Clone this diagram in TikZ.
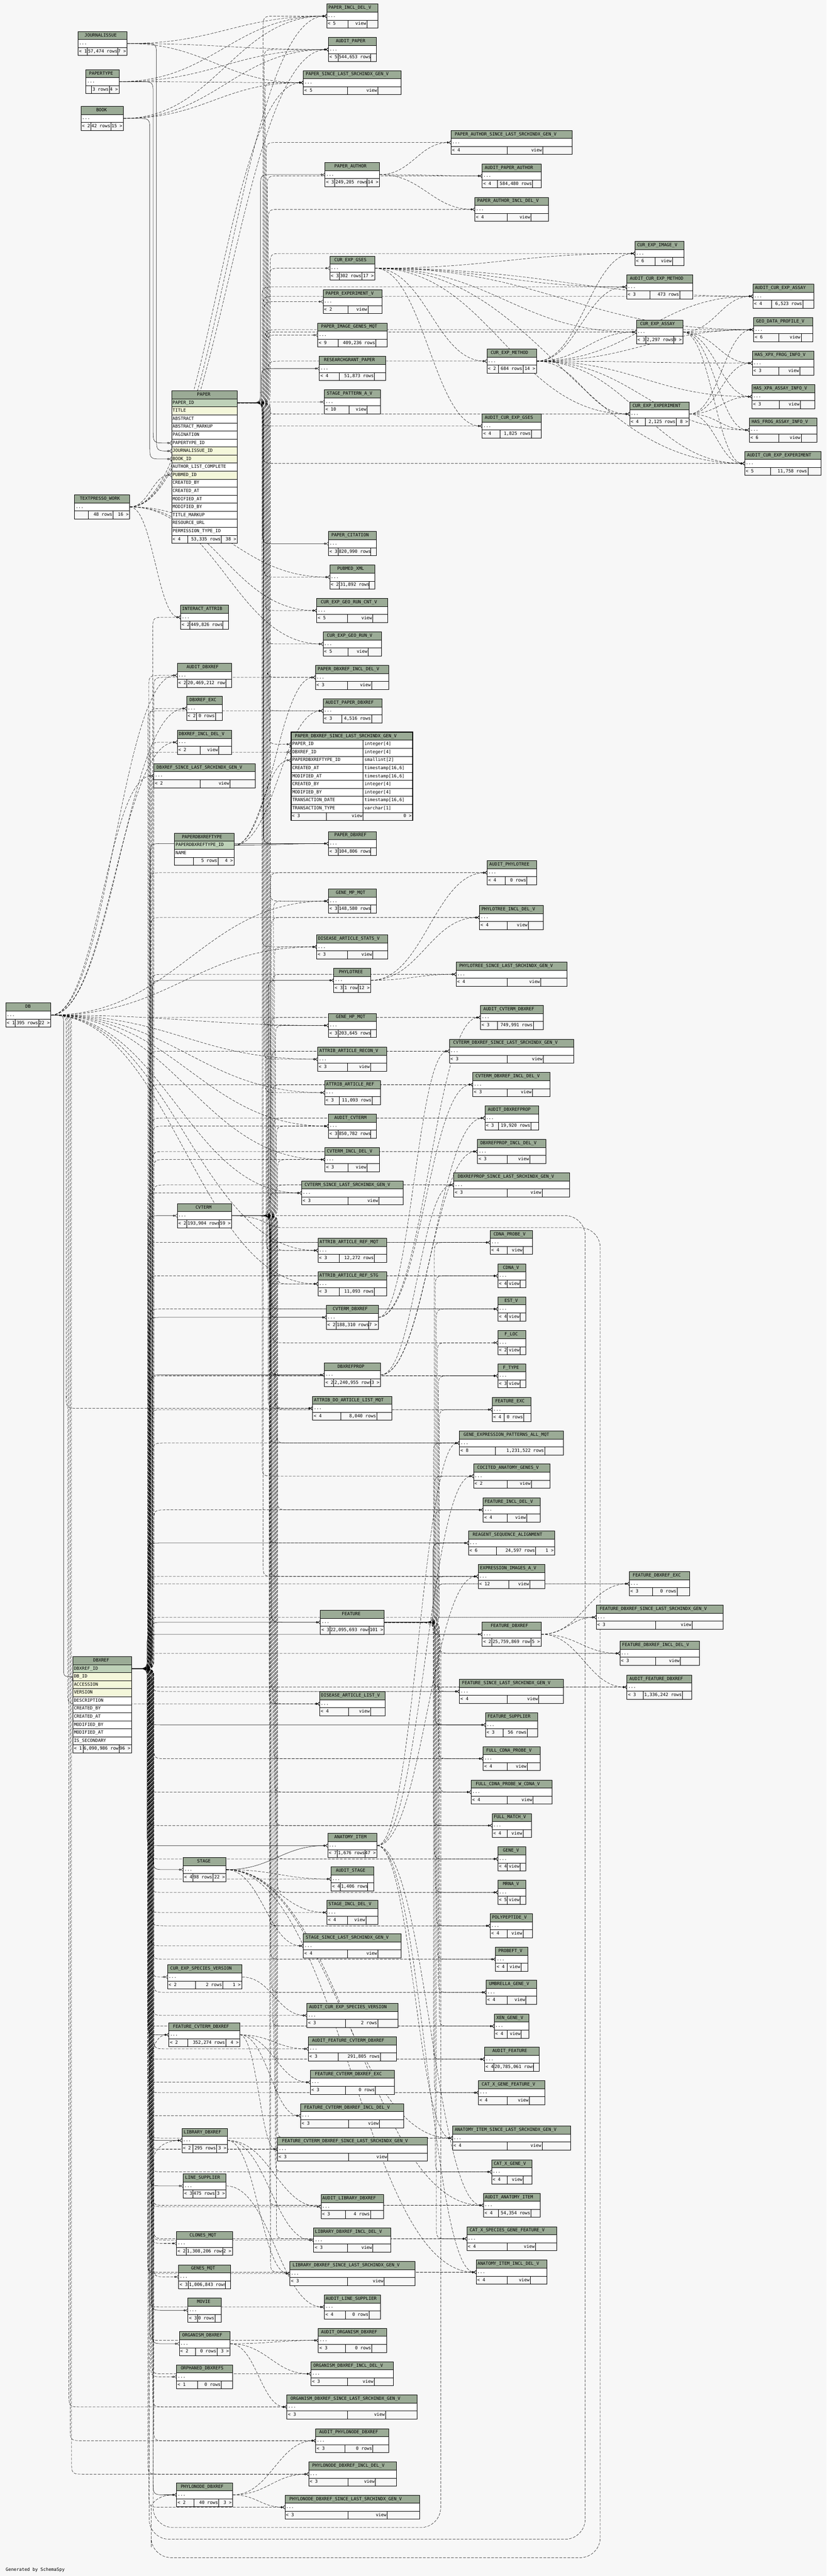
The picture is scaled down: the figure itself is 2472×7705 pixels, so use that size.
\documentclass[tikz,border=0pt]{standalone}
\usepackage{fontspec}
\usepackage{xstring}
\noexpandarg
\newfontfamily\schemafont{DejaVu Sans Mono}
\usetikzlibrary{arrows.meta,calc}
\definecolor{hdrfill}{HTML}{9BAB96}
\definecolor{pkfill}{HTML}{BED1B8}
\definecolor{idxfill}{HTML}{F4F7DA}
\definecolor{bgcol}{HTML}{F7F7F7}
\pgfdeclarelayer{back}
\pgfdeclarelayer{edges}
\pgfsetlayers{back,edges,main}
\newcommand\tblfont{\schemafont\fontsize{13.3}{15}\selectfont}
\tikzset{
  ttext/.style={font=\tblfont,inner sep=0pt,text height=10pt,text depth=3pt},
  tline/.style={line width=1pt},
  tbox/.style={inner sep=0pt,minimum height=72pt},
  portnode/.style={inner sep=0pt,minimum size=0pt},
  fk/.style={line width=0.8pt,-{Circle[open,length=6pt,width=6pt] Straight Barb[reversed,length=6pt,width=10pt]}},
  imp/.style={fk,dash pattern=on 8pt off 4pt},
}
% header: width, name (monospace, 8px a character)
\newcommand\tblhead[2]{%
  \fill[hdrfill] (0,0) rectangle (#1,24);
  \StrLen{#2}[\hlen]%
  \pgfmathsetmacro\hx{max(4,(#1-8.96*\hlen)/2)}%
  \node[ttext,anchor=west] at (\hx,12) {#2};}
% footer: top, width, left, mid, right, split1, split2
\newcommand\tblfoot[7]{%
  \fill[bgcol] (0,#1) rectangle (#2,#1+24);
  \draw[tline] (#6,#1) -- (#6,#1+24) (#7,#1) -- (#7,#1+24);
  \begin{scope}\clip (0,#1) rectangle (#6,#1+24);
    \node[ttext,anchor=west] at (3,#1+12) {#3};\end{scope}
  \StrLen{#4}[\mlen]%
  \begin{scope}\clip (#6,#1) rectangle (#7,#1+24);
    \ifdim\dimexpr 8pt*\mlen+4pt\relax>\dimexpr #7pt-#6pt\relax
      \node[ttext,anchor=west] at (#6+2,#1+12) {#4};
    \else
      \node[ttext,anchor=east] at (#7-2,#1+12) {#4};
    \fi\end{scope}
  \node[ttext,anchor=east] at (#2-3,#1+12) {#5};}
% table: id, x,y, width, name, left, mid, right, split1, split2
\newcommand\tbl[9]{%
  \begin{scope}[shift={(#2)}]
  \node[tbox,minimum width=#3pt,anchor=north west] (#1) at (0,0) {};
  \tblhead{#3}{#4}
  \fill[white] (0,24) rectangle (#3,48);
  \node[ttext,anchor=west] at (3,36) {...};
  \tblfoot{48}{#3}{#5}{#6}{#7}{#8}{#9}
  \draw[tline] (0,0) rectangle (#3,72) (0,24) -- (#3,24) (0,48) -- (#3,48);
  \end{scope}}
% connector through a vertical channel: style, from, channel x, to
\newcommand\fkroute[4]{%
  \draw[#1] let \p1=(#2), \p2=(#4),
    \n1={max(0,min(40,abs((\y2)-(\y1))/2,(#3)-\x1/1pt,\x2/1pt-(#3)))},
    \n2={sign((\y2)-(\y1))} in
    (\p1) -- ({((#3)-\n1)*1pt},\y1) .. controls ({(#3)*1pt},\y1) .. ({(#3)*1pt},{\y1+\n1*\n2*1pt})
    -- ({(#3)*1pt},{\y2-\n1*\n2*1pt}) .. controls ({(#3)*1pt},\y2) .. ({((#3)+\n1)*1pt},\y2) -- (\p2);}
% direct connector: style, from, to
\newcommand\fklink[3]{%
  \draw[#1] let \p1=(#2), \p2=(#3), \n1={max(20,0.45*abs((\x2)-(\x1))/1pt)} in
    (\p1) .. controls ({\x1+\n1*1pt},\y1) and ({\x2-\n1*1pt},\y2) .. (\p2);}
\begin{document}
\begin{tikzpicture}[x=1pt,y=-1pt]
\begin{pgfonlayer}{back}
\fill[bgcol] (0,0) rectangle (2472,7705);
\end{pgfonlayer}
\useasboundingbox (0,0) rectangle (2472,7705);
%tables
\tbl{paperincldelv}{977,12}{153}{PAPER\_INCL\_DEL\_V}{< 5}{view}{}{64}{120}
\tbl{journalissue}{233,94}{147}{JOURNALISSUE}{< 1}{57,474 rows}{7 >}{28}{119}
\tbl{auditpaper}{982,112}{143}{AUDIT\_PAPER}{< 5}{544,653 rows}{}{29}{126}
\tbl{papertype}{257,208}{99}{PAPERTYPE}{}{3 rows}{4 >}{17}{70}
\tbl{papersince}{907,211}{292}{PAPER\_SINCE\_LAST\_SRCHINDX\_GEN\_V}{< 5}{view}{}{132}{223}
\tbl{book}{242,318}{127}{BOOK}{< 2}{42 rows}{15 >}{29}{90}
\tbl{paperauthorsince}{1349,390}{362}{PAPER\_AUTHOR\_SINCE\_LAST\_SRCHINDX\_GEN\_V}{< 4}{view}{}{168}{274}
\tbl{paperauthor}{972,486}{163}{PAPER\_AUTHOR}{< 3}{249,205 rows}{14 >}{29}{126}
\tbl{auditpaperauthor}{1442,490}{177}{AUDIT\_PAPER\_AUTHOR}{< 4}{584,480 rows}{}{45}{151}
\tbl{paperauthorincldelv}{1420,590}{220}{PAPER\_AUTHOR\_INCL\_DEL\_V}{< 4}{view}{}{97}{168}
\tbl{curexpimagev}{1899,722}{147}{CUR\_EXP\_IMAGE\_V}{< 6}{view}{}{60}{112}
\tbl{curexpgses}{986,766}{135}{CUR\_EXP\_GSES}{< 3}{302 rows}{17 >}{29}{97}
\tbl{auditcurexpmethod}{1874,822}{198}{AUDIT\_CUR\_EXP\_METHOD}{< 3}{473 rows}{}{70}{159}
\tbl{auditcurexpassay}{2252,850}{181}{AUDIT\_CUR\_EXP\_ASSAY}{< 4}{6,523 rows}{}{56}{149}
\tbl{paperexperimentv}{966,866}{176}{PAPER\_EXPERIMENT\_V}{< 2}{view}{}{75}{134}
\tbl{geodataprofilev}{2254,950}{176}{GEO\_DATA\_PROFILE\_V}{< 6}{view}{}{75}{142}
\tbl{curexpassay}{1903,957}{139}{CUR\_EXP\_ASSAY}{< 3}{2,297 rows}{9 >}{29}{111}
\tbl{paperimagegenesmqt}{950,966}{208}{PAPER\_IMAGE\_GENES\_MQT}{< 9}{409,236 rows}{}{61}{174}
\tbl{curexpmethod}{1456,1044}{148}{CUR\_EXP\_METHOD}{< 2}{684 rows}{14 >}{35}{108}
\tbl{hasxpxfroginfov}{2250,1050}{184}{HAS\_XPX\_FROG\_INFO\_V}{< 3}{view}{}{79}{142}
\tbl{researchgrantpaper}{955,1066}{198}{RESEARCHGRANT\_PAPER}{< 4}{51,873 rows}{}{60}{165}
\tbl{hasxpaassayinfov}{2249,1150}{188}{HAS\_XPA\_ASSAY\_INFO\_V}{< 3}{view}{}{81}{144}
\tbl{stagepatternav}{970,1166}{167}{STAGE\_PATTERN\_A\_V}{< 10}{view}{}{73}{128}
\tbl{curexpexperiment}{1883,1202}{178}{CUR\_EXP\_EXPERIMENT}{< 4}{2,125 rows}{8 >}{47}{139}
\tbl{auditcurexpgses}{1442,1238}{177}{AUDIT\_CUR\_EXP\_GSES}{< 4}{1,825 rows}{}{53}{147}
\tbl{hasfrogassayinfov}{2241,1250}{202}{HAS\_FROG\_ASSAY\_INFO\_V}{< 6}{view}{}{88}{155}
\tbl{auditcurexpexperiment}{2227,1350}{229}{AUDIT\_CUR\_EXP\_EXPERIMENT}{< 5}{11,758 rows}{}{77}{189}
\tbl{textpresso}{223,1480}{165}{TEXTPRESSO\_WORK}{}{48 rows}{16 >}{41}{115}
\tbl{papercitation}{982,1590}{143}{PAPER\_CITATION}{< 3}{820,990 rows}{}{29}{126}
\tbl{pubmedxml}{986,1690}{135}{PUBMED\_XML}{< 2}{31,892 rows}{}{29}{118}
\tbl{curexpgeoruncntv}{947,1790}{213}{CUR\_EXP\_GEO\_RUN\_CNT\_V}{< 5}{view}{}{92}{168}
\tbl{interactattrib}{540,1810}{143}{INTERACT\_ATTRIB}{< 2}{449,826 rows}{}{28}{126}
\tbl{curexpgeorunv}{966,1890}{175}{CUR\_EXP\_GEO\_RUN\_V}{< 5}{view}{}{75}{135}
\tbl{auditdbxref}{530,1984}{163}{AUDIT\_DBXREF}{< 2}{20,469,212 rows}{}{29}{146}
\tbl{paperdbxrefincldelv}{943,1990}{220}{PAPER\_DBXREF\_INCL\_DEL\_V}{< 3}{view}{}{96}{168}
\tbl{dbxrefexc}{558,2083}{107}{DBXREF\_EXC}{< 2}{0 rows}{}{29}{86}
\tbl{auditpaperdbxref}{966,2090}{176}{AUDIT\_PAPER\_DBXREF}{< 3}{4,516 rows}{}{56}{145}
\tbl{dbxrefincldelv}{530,2184}{162}{DBXREF\_INCL\_DEL\_V}{< 2}{view}{}{68}{124}
\tbl{dbxrefsince}{460,2284}{303}{DBXREF\_SINCE\_LAST\_SRCHINDX\_GEN\_V}{< 2}{view}{}{138}{228}
\tbl{paperdbxref}{982,2487}{143}{PAPER\_DBXREF}{< 3}{104,806 rows}{}{29}{126}
\tbl{auditphylotree}{1457,2574}{147}{AUDIT\_PHYLOTREE}{< 4}{0 rows}{}{53}{119}
\tbl{genempmqt}{982,2659}{143}{GENE\_MP\_MQT}{< 3}{148,580 rows}{}{29}{126}
\tbl{phylotreeincldelv}{1434,2708}{191}{PHYLOTREE\_INCL\_DEL\_V}{< 4}{view}{}{83}{146}
\tbl{diseasearticlestatsv}{947,2796}{213}{DISEASE\_ARTICLE\_STATS\_V}{< 3}{view}{}{92}{168}
\tbl{phylotreesince}{1364,2878}{332}{PHYLOTREE\_SINCE\_LAST\_SRCHINDX\_GEN\_V}{< 4}{view}{}{153}{253}
\tbl{phylotree}{998,2896}{111}{PHYLOTREE}{< 3}{1 row}{12 >}{29}{74}
\tbl{db}{17,3000}{135}{DB}{< 1}{395 rows}{22 >}{28}{99}
\tbl{auditcvtermdbxref}{1437,3007}{187}{AUDIT\_CVTERM\_DBXREF}{< 3}{749,991 rows}{}{50}{158}
\tbl{genehpmqt}{982,3031}{143}{GENE\_HP\_MQT}{< 3}{203,645 rows}{}{29}{126}
\tbl{cvtermdbxrefsince}{1344,3108}{372}{CVTERM\_DBXREF\_SINCE\_LAST\_SRCHINDX\_GEN\_V}{< 3}{view}{}{173}{281}
\tbl{attribarticlereconv}{950,3132}{207}{ATTRIB\_ARTICLE\_RECON\_V}{< 3}{view}{}{89}{158}
\tbl{cvtermdbxrefincldelv}{1414,3208}{231}{CVTERM\_DBXREF\_INCL\_DEL\_V}{< 3}{view}{}{103}{178}
\tbl{attribarticleref}{971,3232}{167}{ATTRIB\_ARTICLE\_REF}{< 3}{11,093 rows}{}{44}{142}
\tbl{auditdbxrefprop}{1450,3308}{161}{AUDIT\_DBXREFPROP}{< 3}{19,920 rows}{}{41}{138}
\tbl{auditcvterm}{982,3332}{143}{AUDIT\_CVTERM}{< 3}{850,782 rows}{}{29}{126}
\tbl{dbxrefpropincldelv}{1428,3408}{205}{DBXREFPROP\_INCL\_DEL\_V}{< 3}{view}{}{89}{156}
\tbl{cvtermincldelv}{972,3432}{163}{CVTERM\_INCL\_DEL\_V}{< 3}{view}{}{69}{126}
\tbl{dbxrefpropsince}{1357,3508}{346}{DBXREFPROP\_SINCE\_LAST\_SRCHINDX\_GEN\_V}{< 3}{view}{}{160}{264}
\tbl{cvtermsince}{902,3532}{304}{CVTERM\_SINCE\_LAST\_SRCHINDX\_GEN\_V}{< 3}{view}{}{139}{231}
\tbl{cvterm}{530,3600}{163}{CVTERM}{< 2}{193,904 rows}{59 >}{29}{126}
\tbl{cdnaprobev}{1466,3680}{127}{CDNA\_PROBE\_V}{< 4}{view}{}{51}{99}
\tbl{attribarticlerefmqt}{951,3704}{206}{ATTRIB\_ARTICLE\_REF\_MQT}{< 3}{12,272 rows}{}{64}{169}
\tbl{cdnav}{1489,3780}{84}{CDNA\_V}{< 4}{view}{}{28}{67}
\tbl{attribarticlerefstg}{951,3804}{205}{ATTRIB\_ARTICLE\_REF\_STG}{< 3}{11,093 rows}{}{64}{169}
\tbl{estv}{1489,3879}{84}{EST\_V}{< 4}{view}{}{28}{67}
\tbl{cvtermdbxref}{976,3904}{155}{CVTERM\_DBXREF}{< 2}{188,310 rows}{7 >}{29}{126}
\tbl{flocv}{1489,3980}{84}{F\_LOC}{< 2}{view}{}{28}{67}
\tbl{dbxrefprop}{970,4076}{168}{DBXREFPROP}{< 2}{2,240,955 rows}{3 >}{28}{138}
\tbl{ftype}{1489,4079}{84}{F\_TYPE}{< 3}{view}{}{28}{67}
\tbl{attribdoarticlelistmqt}{935,4176}{236}{ATTRIB\_DO\_ARTICLE\_LIST\_MQT}{< 4}{8,040 rows}{}{84}{192}
\tbl{featureexc}{1472,4180}{116}{FEATURE\_EXC}{< 4}{0 rows}{}{36}{94}
\tbl{geneexpressionpatternsallmqt}{1374,4280}{311}{GENE\_EXPRESSION\_PATTERNS\_ALL\_MQT}{< 8}{1,231,522 rows}{}{107}{255}
\tbl{cocitedanatomygenesv}{1416,4379}{228}{COCITED\_ANATOMY\_GENES\_V}{< 2}{view}{}{101}{173}
\tbl{featureincldelv}{1445,4480}{170}{FEATURE\_INCL\_DEL\_V}{< 4}{view}{}{72}{130}
\tbl{reagentsequencealignment}{1401,4579}{258}{REAGENT\_SEQUENCE\_ALIGNMENT}{< 6}{24,597 rows}{1 >}{84}{201}
\tbl{expressionimagesav}{1430,4679}{199}{EXPRESSION\_IMAGES\_A\_V}{< 12}{view}{}{91}{154}
\tbl{featuredbxrefexc}{1882,4701}{181}{FEATURE\_DBXREF\_EXC}{< 3}{0 rows}{}{70}{143}
\tbl{featuredbxrefsince}{1783,4801}{379}{FEATURE\_DBXREF\_SINCE\_LAST\_SRCHINDX\_GEN\_V}{< 3}{view}{}{177}{287}
\tbl{feature}{958,4816}{191}{FEATURE}{< 3}{22,095,693 rows}{101 >}{28}{146}
\tbl{featuredbxref}{1442,4852}{176}{FEATURE\_DBXREF}{< 2}{25,759,869 rows}{5 >}{29}{146}
\tbl{featuredbxrefincldelv}{1854,4909}{237}{FEATURE\_DBXREF\_INCL\_DEL\_V}{< 3}{view}{}{106}{181}
\tbl{auditfeaturedbxref}{1875,5010}{194}{AUDIT\_FEATURE\_DBXREF}{< 3}{1,336,242 rows}{}{48}{166}
\tbl{featuresince}{1374,5023}{311}{FEATURE\_SINCE\_LAST\_SRCHINDX\_GEN\_V}{< 4}{view}{}{143}{237}
\tbl{diseasearticlelistv}{956,5060}{195}{DISEASE\_ARTICLE\_LIST\_V}{< 4}{view}{}{86}{152}
\tbl{featuresupplier}{1452,5123}{156}{FEATURE\_SUPPLIER}{< 3}{56 rows}{}{53}{125}
\tbl{fullcdnaprobev}{1445,5224}{170}{FULL\_CDNA\_PROBE\_V}{< 4}{view}{}{72}{132}
\tbl{fullcdnaprobewcdnav}{1409,5324}{242}{FULL\_CDNA\_PROBE\_W\_CDNA\_V}{< 4}{view}{}{108}{185}
\tbl{fullmatchv}{1472,5424}{117}{FULL\_MATCH\_V}{< 4}{view}{}{45}{92}
\tbl{anatomyitem}{980,5484}{147}{ANATOMY\_ITEM}{< 7}{1,676 rows}{47 >}{29}{111}
\tbl{genev}{1489,5524}{84}{GENE\_V}{< 4}{view}{}{28}{67}
\tbl{stage}{548,5556}{128}{STAGE}{< 4}{98 rows}{22 >}{29}{89}
\tbl{auditstage}{990,5584}{127}{AUDIT\_STAGE}{< 4}{1,406 rows}{}{28}{109}
\tbl{mrnav}{1489,5624}{84}{MRNA\_V}{< 5}{view}{}{28}{67}
\tbl{stageincldelv}{978,5684}{152}{STAGE\_INCL\_DEL\_V}{< 4}{view}{}{61}{116}
\tbl{polypeptidev}{1466,5724}{127}{POLYPEPTIDE\_V}{< 4}{view}{}{51}{98}
\tbl{stagesince}{907,5784}{292}{STAGE\_SINCE\_LAST\_SRCHINDX\_GEN\_V}{< 4}{view}{}{132}{223}
\tbl{probeftv}{1482,5824}{97}{PROBEFT\_V}{< 4}{view}{}{35}{76}
\tbl{curexpspeciesversion}{501,5877}{222}{CUR\_EXP\_SPECIES\_VERSION}{< 2}{2 rows}{1 >}{83}{165}
\tbl{umbrellagenev}{1454,5923}{151}{UMBRELLA\_GENE\_V}{< 4}{view}{}{63}{119}
\tbl{auditcurexpspeciesversion}{918,5992}{272}{AUDIT\_CUR\_EXP\_SPECIES\_VERSION}{< 3}{2 rows}{}{115}{212}
\tbl{xengenev}{1478,6024}{103}{XEN\_GENE\_V}{< 4}{view}{}{39}{81}
\tbl{featurecvtermdbxref}{505,6050}{212}{FEATURE\_CVTERM\_DBXREF}{< 2}{352,274 rows}{4 >}{56}{170}
\tbl{auditfeaturecvtermdbxref}{922,6092}{264}{AUDIT\_FEATURE\_CVTERM\_DBXREF}{< 3}{291,805 rows}{}{89}{216}
\tbl{auditfeature}{1449,6123}{163}{AUDIT\_FEATURE}{< 4}{20,785,061 rows}{}{28}{146}
\tbl{featurecvtermdbxrefexc}{928,6192}{251}{FEATURE\_CVTERM\_DBXREF\_EXC}{< 3}{0 rows}{}{105}{195}
\tbl{catxgenefeaturev}{1431,6223}{198}{CAT\_X\_GENE\_FEATURE\_V}{< 4}{view}{}{86}{152}
\tbl{featurecvtermdbxrefincldelv}{899,6292}{308}{FEATURE\_CVTERM\_DBXREF\_INCL\_DEL\_V}{< 3}{view}{}{143}{236}
\tbl{anatomyitemsince}{1353,6359}{354}{ANATOMY\_ITEM\_SINCE\_LAST\_SRCHINDX\_GEN\_V}{< 4}{view}{}{164}{268}
\tbl{librarydbxref}{544,6366}{136}{LIBRARY\_DBXREF}{< 2}{295 rows}{3 >}{33}{104}
\tbl{featurecvtermdbxrefsince}{830,6392}{448}{FEATURE\_CVTERM\_DBXREF\_SINCE\_LAST\_SRCHINDX\_GEN\_V}{< 3}{view}{}{212}{330}
\tbl{catxgenev}{1470,6460}{121}{CAT\_X\_GENE\_V}{< 4}{view}{}{47}{95}
\tbl{linesupplier}{548,6502}{128}{LINE\_SUPPLIER}{< 3}{475 rows}{3 >}{29}{97}
\tbl{auditanatomyitem}{1446,6560}{169}{AUDIT\_ANATOMY\_ITEM}{< 4}{54,354 rows}{}{45}{142}
\tbl{auditlibrarydbxref}{960,6564}{187}{AUDIT\_LIBRARY\_DBXREF}{< 3}{4 rows}{}{73}{148}
\tbl{catxspeciesgenefeaturev}{1396,6660}{268}{CAT\_X\_SPECIES\_GENE\_FEATURE\_V}{< 4}{view}{}{121}{205}
\tbl{librarydbxrefincldelv}{938,6664}{231}{LIBRARY\_DBXREF\_INCL\_DEL\_V}{< 3}{view}{}{101}{177}
\tbl{clonesmqt}{528,6674}{167}{CLONES\_MQT}{< 2}{1,308,206 rows}{2 >}{29}{138}
\tbl{anatomyitemincldelv}{1424,6760}{212}{ANATOMY\_ITEM\_INCL\_DEL\_V}{< 4}{view}{}{93}{162}
\tbl{librarydbxrefsince}{867,6764}{374}{LIBRARY\_DBXREF\_SINCE\_LAST\_SRCHINDX\_GEN\_V}{< 3}{view}{}{172}{282}
\tbl{genesmqt}{534,6774}{155}{GENES\_MQT}{< 3}{1,006,843 rows}{}{29}{140}
\tbl{auditlinesupplier}{970,6864}{168}{AUDIT\_LINE\_SUPPLIER}{< 4}{0 rows}{}{63}{134}
\tbl{movie}{562,6874}{99}{MOVIE}{< 3}{0 rows}{}{29}{81}
\tbl{auditorganismdbxref}{952,6964}{204}{AUDIT\_ORGANISM\_DBXREF}{< 3}{0 rows}{}{81}{160}
\tbl{organismdbxref}{536,6974}{152}{ORGANISM\_DBXREF}{< 2}{0 rows}{3 >}{49}{113}
\tbl{organismdbxrefincldelv}{930,7064}{247}{ORGANISM\_DBXREF\_INCL\_DEL\_V}{< 3}{view}{}{109}{189}
\tbl{orphaneddbxrefs}{528,7073}{168}{ORPHANED\_DBXREFS}{< 1}{0 rows}{}{63}{134}
\tbl{organismdbxrefsince}{858,7163}{389}{ORGANISM\_DBXREF\_SINCE\_LAST\_SRCHINDX\_GEN\_V}{< 3}{view}{}{181}{295}
\tbl{auditphylonodedbxref}{944,7264}{218}{AUDIT\_PHYLONODE\_DBXREF}{< 3}{0 rows}{}{87}{171}
\tbl{phylonodedbxrefincldelv}{923,7364}{263}{PHYLONODE\_DBXREF\_INCL\_DEL\_V}{< 3}{view}{}{118}{200}
\tbl{phylonodedbxref}{528,7426}{168}{PHYLONODE\_DBXREF}{< 2}{40 rows}{3 >}{52}{126}
\tbl{phylonodedbxrefsince}{852,7463}{403}{PHYLONODE\_DBXREF\_SINCE\_LAST\_SRCHINDX\_GEN\_V}{< 3}{view}{}{189}{306}
%paper
\begin{scope}[shift={(513,1169)}]
\tblhead{197}{PAPER}
\foreach \cname/\cfill [count=\i] in {PAPER\_ID/pkfill,TITLE/idxfill,ABSTRACT/white,ABSTRACT\_MARKUP/white,PAGINATION/white,PAPERTYPE\_ID/white,JOURNALISSUE\_ID/idxfill,BOOK\_ID/idxfill,AUTHOR\_LIST\_COMPLETE/white,PUBMED\_ID/idxfill,CREATED\_BY/white,CREATED\_AT/white,MODIFIED\_AT/white,MODIFIED\_BY/white,TITLE\_MARKUP/white,RESOURCE\_URL/white,PERMISSION\_TYPE\_ID/white}{
  \fill[\cfill] (0,24*\i) rectangle (197,24*\i+24);
  \draw[tline] (0,24*\i) -- (197,24*\i);
  \node[ttext,anchor=west] at (3,24*\i+12) {\cname};}
\tblfoot{432}{197}{< 4}{53,335 rows}{38 >}{48}{149}
\draw[tline] (0,0) rectangle (197,456) (0,432) -- (197,432);
\end{scope}
\node[portnode] (paperpk) at (710,1205) {};
\node[portnode] (ptype) at (513,1325) {};
\node[portnode] (pjournal) at (513,1349) {};
\node[portnode] (pbook) at (513,1373) {};
\node[portnode] (ppubmed) at (513,1421) {};
%focus view
\begin{scope}[shift={(870,2190)}]
\tblhead{364}{PAPER\_DBXREF\_SINCE\_LAST\_SRCHINDX\_GEN\_V}
\foreach \cname/\ctype [count=\i] in {PAPER\_ID/integer[4],DBXREF\_ID/integer[4],PAPERDBXREFTYPE\_ID/smallint[2],CREATED\_AT/{timestamp[16,6]},MODIFIED\_AT/{timestamp[16,6]},CREATED\_BY/integer[4],MODIFIED\_BY/integer[4],TRANSACTION\_DATE/{timestamp[16,6]},TRANSACTION\_TYPE/varchar[1]}{
  \fill[white] (0,24*\i) rectangle (364,24*\i+24);
  \draw[tline] (0,24*\i) -- (364,24*\i);
  \node[ttext,anchor=west] at (4,24*\i+12) {\cname};
  \node[ttext,anchor=west] at (220,24*\i+12) {\ctype};}
\tblfoot{240}{364}{< 3}{view}{0 >}{106}{216}
\draw[tline] (216,24) -- (216,240) (0,240) -- (364,240);
\draw[line width=3pt] (0,0) rectangle (364,264);
\end{scope}
\node[portnode] (fpaper) at (870,2226) {};
\node[portnode] (fdbxref) at (870,2250) {};
\node[portnode] (fptype) at (870,2274) {};
%paperdbxreftype
\begin{scope}[shift={(522,2492)}]
\tblhead{178}{PAPERDBXREFTYPE}
\fill[pkfill] (0,24) rectangle (178,48);
\fill[white] (0,48) rectangle (178,72);
\node[ttext,anchor=west] at (3,36) {PAPERDBXREFTYPE\_ID};
\node[ttext,anchor=west] at (3,60) {NAME};
\tblfoot{72}{178}{}{5 rows}{4 >}{56}{130}
\draw[tline] (0,0) rectangle (178,96) (0,24) -- (178,24) (0,48) -- (178,48) (0,72) -- (178,72);
\end{scope}
\node[portnode] (ptpk) at (700,2528) {};
%dbxref
\begin{scope}[shift={(218,4955)}]
\tblhead{175}{DBXREF}
\foreach \cname/\cfill [count=\i] in {DBXREF\_ID/pkfill,DB\_ID/idxfill,ACCESSION/idxfill,VERSION/idxfill,DESCRIPTION/white,CREATED\_BY/white,CREATED\_AT/white,MODIFIED\_BY/white,MODIFIED\_AT/white,IS\_SECONDARY/white}{
  \fill[\cfill] (0,24*\i) rectangle (175,24*\i+24);
  \draw[tline] (0,24*\i) -- (175,24*\i);
  \node[ttext,anchor=west] at (3,24*\i+12) {\cname};}
\tblfoot{264}{175}{< 1}{6,090,986 rows}{96 >}{30}{138}
\draw[tline] (0,0) rectangle (175,288) (0,264) -- (175,264);
\end{scope}
\node[portnode] (dbxrefpk) at (393,4991) {};
\node[portnode] (dbdbid) at (218,5015) {};
\node[ttext,anchor=base west] at (17,7690) {Generated by SchemaSpy};
%links
\begin{pgfonlayer}{edges}
%paper
\fkroute{fk}{journalissue.east}{468}{pjournal}
\fkroute{fk}{papertype.east}{458}{ptype}
\fkroute{fk}{book.east}{448}{pbook}
\fklink{imp}{textpresso.east}{ppubmed}
\foreach \pa in {journalissue,papertype,book,textpresso}{\foreach \ch in {paperincldelv,auditpaper,papersince}{\fklink{imp}{\pa.east}{\ch.west}}}
\foreach \ch in {pubmedxml,curexpgeoruncntv,curexpgeorunv,interactattrib}{\fklink{imp}{textpresso.east}{\ch.west}}
\foreach \ch [count=\i] in {paperauthor,researchgrantpaper,papercitation,paperdbxref}{\fkroute{fk}{paperpk}{776+mod(\i,9)*3}{\ch.west}}
\foreach \ch [count=\i] in {paperincldelv,auditpaper,papersince,paperauthorsince,auditpaperauthor,paperauthorincldelv,curexpgses,curexpimagev,auditcurexpmethod,auditcurexpassay,paperexperimentv,geodataprofilev,curexpassay,paperimagegenesmqt,curexpmethod,stagepatternav,curexpexperiment,auditcurexpgses,auditcurexpexperiment,pubmedxml,curexpgeoruncntv,curexpgeorunv,paperdbxrefincldelv,auditpaperdbxref,fpaper,genempmqt,diseasearticlestatsv,genehpmqt,attribarticlereconv,attribarticleref,attribarticlerefmqt,attribarticlerefstg,attribdoarticlelistmqt,diseasearticlelistv,geneexpressionpatternsallmqt,cocitedanatomygenesv,expressionimagesav}{\fkroute{imp}{paperpk}{784+mod(\i,9)*3}{\ch.west}}
\foreach \ch in {paperauthorsince,auditpaperauthor,paperauthorincldelv}{\fklink{imp}{paperauthor.east}{\ch.west}}
\foreach \ch in {curexpimagev,auditcurexpmethod,curexpassay,auditcurexpassay,geodataprofilev,curexpmethod,curexpexperiment,auditcurexpgses,auditcurexpexperiment}{\fklink{imp}{curexpgses.east}{\ch.west}}
\foreach \ch in {curexpimagev,auditcurexpmethod,curexpassay,auditcurexpassay,geodataprofilev,hasxpxfroginfov,hasxpaassayinfov,curexpexperiment,hasfrogassayinfov,auditcurexpexperiment}{\fklink{imp}{curexpmethod.east}{\ch.west}}
\foreach \ch in {auditcurexpassay,geodataprofilev,hasxpxfroginfov,hasxpaassayinfov,hasfrogassayinfov,auditcurexpexperiment}{\fklink{imp}{curexpassay.east}{\ch.west}}
\foreach \ch in {geodataprofilev,hasxpxfroginfov,hasxpaassayinfov,hasfrogassayinfov,auditcurexpexperiment}{\fklink{imp}{curexpexperiment.east}{\ch.west}}
%paperdbxreftype
\fklink{fk}{ptpk}{paperdbxref.west}
\foreach \ch in {fptype,paperdbxrefincldelv.west,auditpaperdbxref.west}{\fklink{imp}{ptpk}{\ch}}
%db
\fkroute{fk}{db.east}{190}{dbdbid}
\foreach \ch in {auditdbxref,dbxrefexc,dbxrefincldelv,dbxrefsince,genempmqt,diseasearticlestatsv,genehpmqt,attribarticlereconv,attribarticleref,auditcvterm,cvtermincldelv,cvtermsince,attribarticlerefmqt,attribarticlerefstg}{\fklink{imp}{db.east}{\ch.west}}
\foreach \ch [count=\i] in {attribdoarticlelistmqt,diseasearticlelistv,organismdbxrefsince,auditphylonodedbxref,phylonodedbxrefincldelv}{\fkroute{imp}{db.east}{194+\i*4}{\ch.west}}
%dbxref
\foreach \ch [count=\i] in {cvterm,cvtermdbxref,dbxrefprop,feature,phylotree,stage,anatomyitem,featurecvtermdbxref,librarydbxref,linesupplier,movie,organismdbxref,phylonodedbxref,featuredbxref,reagentsequencealignment,featuresupplier,paperdbxref}{\fkroute{fk}{dbxrefpk}{440+mod(\i,7)*3}{\ch.west}}
\foreach \ch [count=\i] in {auditdbxref,dbxrefexc,dbxrefincldelv,dbxrefsince,interactattrib,paperdbxrefincldelv,auditpaperdbxref,fdbxref,auditphylotree,phylotreeincldelv,phylotreesince,auditcvterm,cvtermincldelv,cvtermsince,auditcvtermdbxref,cvtermdbxrefsince,cvtermdbxrefincldelv,auditdbxrefprop,dbxrefpropincldelv,dbxrefpropsince,cdnaprobev,cdnav,estv,ftype,featureexc,geneexpressionpatternsallmqt,featureincldelv,expressionimagesav,featuredbxrefexc,featuredbxrefsince,featuredbxrefincldelv,auditfeaturedbxref,featuresince,fullcdnaprobev,fullcdnaprobewcdnav,fullmatchv,genev,mrnav,polypeptidev,probeftv,umbrellagenev,xengenev,auditfeature,catxgenefeaturev,anatomyitemsince,catxgenev,auditanatomyitem,catxspeciesgenefeaturev,anatomyitemincldelv,auditstage,stageincldelv,stagesince,curexpspeciesversion,auditcurexpspeciesversion,auditfeaturecvtermdbxref,featurecvtermdbxrefexc,featurecvtermdbxrefincldelv,featurecvtermdbxrefsince,auditlibrarydbxref,clonesmqt,librarydbxrefincldelv,genesmqt,librarydbxrefsince,auditlinesupplier,auditorganismdbxref,orphaneddbxrefs,organismdbxrefincldelv,organismdbxrefsince,auditphylonodedbxref,phylonodedbxrefincldelv,phylonodedbxrefsince}{\fkroute{imp}{dbxrefpk}{442+mod(\i,7)*3}{\ch.west}}
%cvterm
\foreach \ch [count=\i] in {phylotree,cvtermdbxref,dbxrefprop,feature}{\fkroute{fk}{cvterm.east}{800+mod(\i,9)*3}{\ch.west}}
\foreach \ch [count=\i] in {auditphylotree,phylotreeincldelv,phylotreesince,genempmqt,diseasearticlestatsv,genehpmqt,auditcvterm,cvtermincldelv,cvtermsince,auditcvtermdbxref,cvtermdbxrefsince,cvtermdbxrefincldelv,auditdbxrefprop,dbxrefpropincldelv,dbxrefpropsince,attribarticlerefmqt,attribarticlerefstg,cdnaprobev,cdnav,estv,flocv,ftype,featureexc,attribdoarticlelistmqt,geneexpressionpatternsallmqt,featureincldelv,reagentsequencealignment,expressionimagesav,featuresince,diseasearticlelistv,fullcdnaprobev,fullcdnaprobewcdnav,fullmatchv,genev,mrnav,polypeptidev,probeftv,umbrellagenev,xengenev,auditfeature,catxgenefeaturev,catxgenev,catxspeciesgenefeaturev,anatomyitemsince,auditanatomyitem,anatomyitemincldelv}{\fkroute{imp}{cvterm.east}{806+mod(\i,9)*3}{\ch.west}}
\draw[imp,rounded corners=60] (cvterm.east) -- (1750,3636) -- (1750,7595) -- (446,7595) -- (446,6300) .. controls (446,6150) and (460,6086) .. (featurecvtermdbxref.west);
\draw[imp,rounded corners=60] (cvterm.east) .. controls (790,3636) and (800,3672) .. (900,3672) -- (1795,3672) -- (1795,7650) -- (452,7650) -- (452,7560) .. controls (452,7490) and (470,7462) .. (phylonodedbxref.west);
\foreach \ch in {auditphylotree,phylotreeincldelv,phylotreesince}{\fklink{imp}{phylotree.east}{\ch.west}}
\foreach \ch in {auditcvtermdbxref,cvtermdbxrefsince,cvtermdbxrefincldelv}{\fklink{imp}{cvtermdbxref.east}{\ch.west}}
\foreach \ch in {auditdbxrefprop,dbxrefpropincldelv,dbxrefpropsince}{\fklink{imp}{dbxrefprop.east}{\ch.west}}
%feature
\foreach \ch [count=\i] in {reagentsequencealignment,featuredbxref,featuresupplier}{\fkroute{fk}{feature.east}{1292+mod(\i,7)*3}{\ch.west}}
\foreach \ch [count=\i] in {cdnaprobev,cdnav,estv,flocv,ftype,featureexc,geneexpressionpatternsallmqt,cocitedanatomygenesv,featureincldelv,expressionimagesav,featuresince,fullcdnaprobev,fullcdnaprobewcdnav,fullmatchv,genev,mrnav,polypeptidev,probeftv,umbrellagenev,xengenev,auditfeature,catxgenefeaturev,catxgenev,catxspeciesgenefeaturev,featuredbxrefexc,featuredbxrefsince,featuredbxrefincldelv,auditfeaturedbxref}{\fkroute{imp}{feature.east}{1296+mod(\i,7)*3}{\ch.west}}
\draw[imp,rounded corners=60] (feature.east) -- (1318,4852) -- (1318,7560) -- (458,7560) -- (458,6520) .. controls (458,6440) and (480,6402) .. (librarydbxref.west);
\foreach \ch in {featuredbxrefexc,featuredbxrefsince,featuredbxrefincldelv,auditfeaturedbxref}{\fklink{imp}{featuredbxref.east}{\ch.west}}
%stage, anatomy
\fklink{fk}{stage.east}{anatomyitem.west}
\foreach \ch in {auditstage,stageincldelv,stagesince,anatomyitemsince,auditanatomyitem,anatomyitemincldelv}{\fklink{imp}{stage.east}{\ch.west}}
\foreach \ch in {anatomyitemsince,auditanatomyitem,anatomyitemincldelv,cocitedanatomygenesv,geneexpressionpatternsallmqt,expressionimagesav}{\fklink{imp}{anatomyitem.east}{\ch.west}}
%lower tables
\fklink{imp}{curexpspeciesversion.east}{auditcurexpspeciesversion.west}
\foreach \ch in {auditfeaturecvtermdbxref,featurecvtermdbxrefexc,featurecvtermdbxrefincldelv,featurecvtermdbxrefsince}{\fklink{imp}{featurecvtermdbxref.east}{\ch.west}}
\foreach \ch in {auditlibrarydbxref,librarydbxrefincldelv,librarydbxrefsince}{\fklink{imp}{librarydbxref.east}{\ch.west}}
\fklink{imp}{linesupplier.east}{auditlinesupplier.west}
\foreach \ch in {auditorganismdbxref,organismdbxrefincldelv,organismdbxrefsince}{\fklink{imp}{organismdbxref.east}{\ch.west}}
\foreach \ch in {auditphylonodedbxref,phylonodedbxrefincldelv,phylonodedbxrefsince}{\fklink{imp}{phylonodedbxref.east}{\ch.west}}
\end{pgfonlayer}
\end{tikzpicture}
\end{document}
